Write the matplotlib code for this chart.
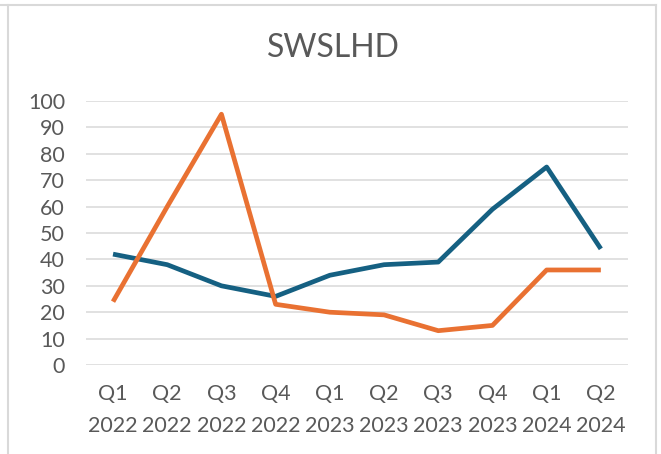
import matplotlib.pyplot as plt
from matplotlib.lines import Line2D

# quarters shown on the x axis
quarters = ['Q1', 'Q2', 'Q3', 'Q4', 'Q1', 'Q2', 'Q3', 'Q4', 'Q1', 'Q2']
years = ['2022', '2022', '2022', '2022', '2023', '2023', '2023', '2023', '2024', '2024']
blue_vals = [42, 38, 30, 26, 34, 38, 39, 59, 75, 44]
orange_vals = [24, 60, 95, 23, 20, 19, 13, 15, 36, 36]
yticks = [0, 10, 20, 30, 40, 50, 60, 70, 80, 90, 100]

plt.rcParams['font.family'] = ['Lato', 'DejaVu Sans']

fig = plt.figure(figsize=(6.61, 4.54), dpi=100)
ax = fig.add_axes([0.130, 0.196, 0.820, 0.5815])

x = list(range(len(quarters)))
ax.plot(x, blue_vals, color='#156082', linewidth=3.4, solid_capstyle='butt', zorder=3)
ax.plot(x, orange_vals, color='#E97132', linewidth=3.4, solid_capstyle='butt', zorder=3)

ax.set_xlim(-0.5, len(quarters) - 0.5)
ax.set_ylim(0, 100)
ax.set_yticks(yticks)
ax.set_yticklabels([str(v) for v in yticks])
ax.set_xticks(x)
ax.set_xticklabels([q + '\n' + y for q, y in zip(quarters, years)], linespacing=1.7)

ax.grid(axis='y', color='#d9d9d9', linewidth=1.1)
ax.set_axisbelow(True)
for s in ax.spines.values():
    s.set_visible(False)
ax.tick_params(axis='both', length=0, labelsize=15.5, labelcolor='#595959')
ax.tick_params(axis='y', pad=15)
ax.tick_params(axis='x', pad=14)

fig.text(0.504, 0.895, 'SWSLHD', ha='center', va='center', fontsize=23, color='#595959')

# chart frame
fig.add_artist(Line2D([0, 0.993], [0.989, 0.989], color='#d9d9d9', linewidth=1.5, transform=fig.transFigure))
fig.add_artist(Line2D([0.012, 0.012], [0, 0.989], color='#d9d9d9', linewidth=1.5, transform=fig.transFigure))
fig.add_artist(Line2D([0.993, 0.993], [0, 0.989], color='#d9d9d9', linewidth=1.5, transform=fig.transFigure))

fig.savefig('out.png', dpi=100)
